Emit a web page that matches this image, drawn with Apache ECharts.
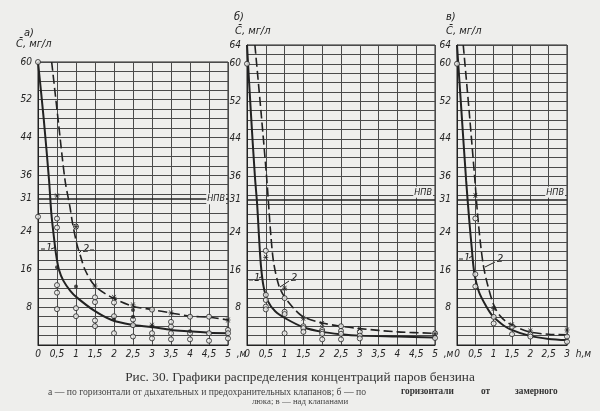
<!DOCTYPE html>
<html><head><meta charset="utf-8">
<script src="https://cdn.jsdelivr.net/npm/echarts@6/dist/echarts.min.js"></script>
<style>html,body{margin:0;padding:0;background:#eeeeec}#c{width:600px;height:411px}</style>
</head><body><div id="c"></div>
<script>
// ---- data ----
const xTicksA = [0,0.5,1,1.5,2,2.5,3,3.5,4,4.5,5];
const xTicksC = [0,0.5,1,1.5,2,2.5,3];
const yLabelsA = [8,16,24,31,36,44,52,60];
const yLabelsBC = [8,16,24,31,36,44,52,60,64];
const npv = 31;

const curveA1 = [[0,60],[0.15,48],[0.29,35],[0.35,28],[0.41,23.5],[0.47,19.5],[0.55,16],[0.67,13.6],[0.85,11.5],[1.02,10.1],[1.46,7.4],[1.94,5.3],[2.46,4.3],[3,3.8],[3.5,3.2],[4,2.9],[4.5,2.6],[5,2.5]];
const curveA2 = [[0.36,60],[0.54,47],[0.71,35],[0.84,29.3],[0.91,25.8],[1.02,21.5],[1.11,19.1],[1.24,15.9],[1.5,12.5],[1.94,10.1],[2.46,8.3],[3,7.5],[3.5,6.8],[4,6.1],[4.5,5.9],[5,5.3]];
const openA = [[0,60],[0,27.2],[0.5,26.8],[0.5,24.9],[0.5,12.7],[0.5,11.1],[0.5,7.6],[1,25.1],[1,7.8],[1,6.1],[1.5,10.1],[1.5,9.1],[1.5,5.2],[1.5,4.0],[2,9.0],[2,6.1],[2,2.5],[2.5,5.4],[2.5,4.2],[2.5,1.8],[3,7.5],[3,2.5],[3,1.4],[3.5,4.9],[3.5,3.9],[3.5,2.5],[3.5,1.2],[4,6.0],[4,2.5],[4,1.2],[4.5,6.0],[4.5,2.5],[4.5,0.9],[5,3.2],[5,2.5],[5,1.4]];
const crossA = [[0.5,31.6],[1,25.1],[1.5,12.5],[2,10.1],[2.5,8.5],[3,4.2],[3.5,6.8],[5,5.3]];
const dotA = [[0.5,16.5],[1,12.4],[2,5.4],[2.5,7.4],[2.5,6.0],[3,3.9],[4,2.9]];

const curveB1 = [[0,64],[0.1,50],[0.21,36],[0.27,30],[0.32,23],[0.37,17],[0.44,12.5],[0.55,9.4],[0.75,7.2],[1.04,5.6],[1.5,3.8],[2,2.8],[2.5,2.3],[3,2.0],[4,1.8],[5,1.6]];
const curveB2 = [[0.21,64],[0.37,50],[0.52,36],[0.57,30.5],[0.63,23.8],[0.71,17.5],[0.85,12.6],[1.01,10.1],[1.28,7.5],[1.5,6.0],[2,4.7],[2.5,4.0],[3,3.5],[4,2.8],[5,2.5]];
const openB = [[0,60],[0.5,20.1],[0.5,10.7],[0.5,9.6],[0.5,8.2],[0.5,7.6],[1,10],[1,7.1],[1,6.6],[1,2.5],[1.5,4.0],[1.5,3.6],[1.5,2.8],[2,3.2],[2,2.8],[2,2.4],[2,1.2],[2.5,4.0],[2.5,3.0],[2.5,2.4],[2.5,1.2],[3,2.8],[3,2.0],[3,1.4],[5,2.5],[5,1.5]];
const crossB = [[0.5,18.7],[1,12.1],[1.5,5.7],[2,4.6],[3,3.5],[5,2.4]];

const curveC1 = [[0,64],[0.12,50],[0.25,35],[0.33,27],[0.40,20.9],[0.47,15.5],[0.6,11.3],[0.8,8.2],[0.97,6.2],[1.2,4.6],[1.44,3.4],[1.97,2.0],[2.5,1.3],[3,1.05]];
const curveC2 = [[0.17,64],[0.33,50],[0.49,35],[0.56,28],[0.65,21],[0.73,16.5],[0.85,12.4],[1.02,8.2],[1.2,6.0],[1.44,4.5],[1.97,2.8],[2.5,2.3],[3,2.2]];
const openC = [[0,60],[0.5,27],[0.5,15.1],[0.5,12.5],[1,6.0],[1,4.6],[1.5,3.9],[1.5,2.3],[2,2.3],[2,1.8],[3,1.8],[3,0.7]];
const crossC = [[0.5,31.9],[1,7.8],[1.5,4.3],[2,3.0],[3,3.2]];

// ---- styling ----
const BG = '#eeeeec', INK = '#222', GRID = '#4a4a4a';
const FONT = 'DejaVu Sans Condensed';
const lblStyle = {color: INK, fontFamily: FONT, fontStyle: 'italic', fontSize: 10};
const crossSym = 'path://M0,0L10,10M0,10L10,0M-2,5L12,5';

const grids = [
  {left:38, top:62, width:190, height:283},
  {left:247, top:45, width:188, height:300},
  {left:457, top:45, width:110, height:300}
];
const panels = [
  {ymax:60, xmax:5, ylabels:yLabelsA, xticks:xTicksA, unit:',м', gap:2, c1:curveA1, c2:curveA2, open:openA, cross:crossA, dot:dotA, npvPos:'insideEnd'},
  {ymax:64, xmax:5, ylabels:yLabelsBC, xticks:xTicksA, unit:',м', gap:2, c1:curveB1, c2:curveB2, open:openB, cross:crossB, dot:[], npvPos:'insideEndTop'},
  {ymax:64, xmax:3, ylabels:yLabelsBC, xticks:xTicksC, unit:'h,м', gap:7, c1:curveC1, c2:curveC2, open:openC, cross:crossC, dot:[], npvPos:'insideEndTop'}
];

const xAxis = [], yAxis = [], series = [];
panels.forEach((p, i) => {
  xAxis.push({
    type:'value', gridIndex:i, min:0, max:p.xmax, interval:0.5,
    axisLine:{show:true, lineStyle:{color:INK, width:1}}, axisTick:{show:false},
    splitLine:{show:true, lineStyle:{color:GRID, width:1}},
    axisLabel:Object.assign({margin:4, formatter: v => p.xticks.includes(v) ? String(v).replace('.', ',') : ''}, lblStyle),
    name:p.unit, nameLocation:'end', nameGap:p.gap,
    nameTextStyle:Object.assign({verticalAlign:'top', align:'left', padding:[4,0,0,0]}, lblStyle)
  });
  yAxis.push({
    type:'value', gridIndex:i, min:0, max:p.ymax, interval:2, position:'left',
    axisLine:{show:true, lineStyle:{color:INK, width:1}}, axisTick:{show:false},
    axisLabel:{show:false},
    splitLine:{show:true, lineStyle:{color:GRID, width:1}}
  });
  yAxis.push({
    type:'value', gridIndex:i, min:0, max:p.ymax, interval:1, position:'left', offset:0,
    axisLine:{show:false}, axisTick:{show:false}, splitLine:{show:false},
    axisLabel:Object.assign({margin:6, formatter: v => p.ylabels.includes(v) ? String(v) : ''}, lblStyle)
  });
  const yi = i*2;
  series.push({
    type:'line', xAxisIndex:i, yAxisIndex:yi, data:p.c1, showSymbol:false, smooth:0.3,
    lineStyle:{color:INK, width:2}, z:5, silent:true,
    markLine:{silent:true, symbol:'none', data:[{yAxis:npv}],
      lineStyle:{color:INK, width:1.6, type:'solid'},
      label:{show:true, formatter:'НПВ', position:p.npvPos, distance:2, color:INK,
        fontFamily:FONT, fontStyle:'italic', fontSize:9, backgroundColor:BG, padding:[1,1]}}
  });
  series.push({
    type:'line', xAxisIndex:i, yAxisIndex:yi, data:p.c2, showSymbol:false, smooth:0.3,
    lineStyle:{color:INK, width:1.6, type:[9,4]}, z:5, silent:true
  });
  series.push({
    type:'scatter', xAxisIndex:i, yAxisIndex:yi, data:p.open, symbol:'circle', symbolSize:5,
    itemStyle:{color:BG, borderColor:INK, borderWidth:1}, z:6, silent:true
  });
  series.push({
    type:'scatter', xAxisIndex:i, yAxisIndex:yi, data:p.cross, symbol:crossSym, symbolSize:5,
    itemStyle:{color:'none', borderColor:INK, borderWidth:1}, z:7, silent:true
  });
  if (p.dot.length) series.push({
    type:'scatter', xAxisIndex:i, yAxisIndex:yi, data:p.dot, symbol:'circle', symbolSize:4,
    itemStyle:{color:INK}, z:7, silent:true
  });
});

const t = (x, y, text, extra) => ({type:'text', left:x, top:y, silent:true,
  style:Object.assign({text, fill:INK, font:'italic 11px "DejaVu Sans Condensed"'}, extra||{})});
const ln = (x1,y1,x2,y2) => ({type:'line', silent:true, shape:{x1,y1,x2,y2}, style:{stroke:INK, lineWidth:1}});
const cap = (x, y, text, font, fill) => ({type:'text', left:x, top:y, silent:true, style:{text, fill:fill||'#444', font}});

const graphic = [
  t(24,28,'а)'), t(16,39,'C̄, мг/л'),
  t(234,12,'б)'), t(235,26,'C̄, мг/л'),
  t(446,12,'в)'), t(446,26,'C̄, мг/л'),
  t(46,243,'1'), ln(41,249,45,249), ln(51,249,56,247),
  t(83,244,'2'), ln(79,253,82,250), ln(90,250,94,250),
  t(254,273,'1'), ln(249,280,253,280), ln(259,278,263,276),
  t(291,273,'2'), ln(280,287,289,281),
  t(464,253,'1'), ln(459,259,463,259), ln(469,258,472,256),
  t(497,254,'2'), ln(485,267,495,262),
  cap('center', 371, 'Рис. 30. Графики распределения концентраций паров бензина', '13.3px "Liberation Serif"', '#333'),
  cap(48, 387, 'а — по горизонтали от дыхательных и предохранительных клапанов; б — по', '9.7px "Liberation Serif"'),
  cap(401, 387, 'горизонтали', 'bold 9.3px "Liberation Serif"', '#333'),
  cap(481, 387, 'от', 'bold 9.3px "Liberation Serif"', '#333'),
  cap(515, 387, 'замерного', 'bold 9.3px "Liberation Serif"', '#333'),
  cap('center', 397, 'люка; в — над клапанами', '8.8px "Liberation Serif"')
];

const chart = echarts.init(document.getElementById('c'), null, {renderer:'canvas'});
chart.setOption({
  backgroundColor: BG,
  animation:false,
  grid: grids.map(g => Object.assign({show:true, borderColor:INK, borderWidth:1, backgroundColor:'transparent'}, g)),
  xAxis, yAxis, series, graphic
});
</script></body></html>
